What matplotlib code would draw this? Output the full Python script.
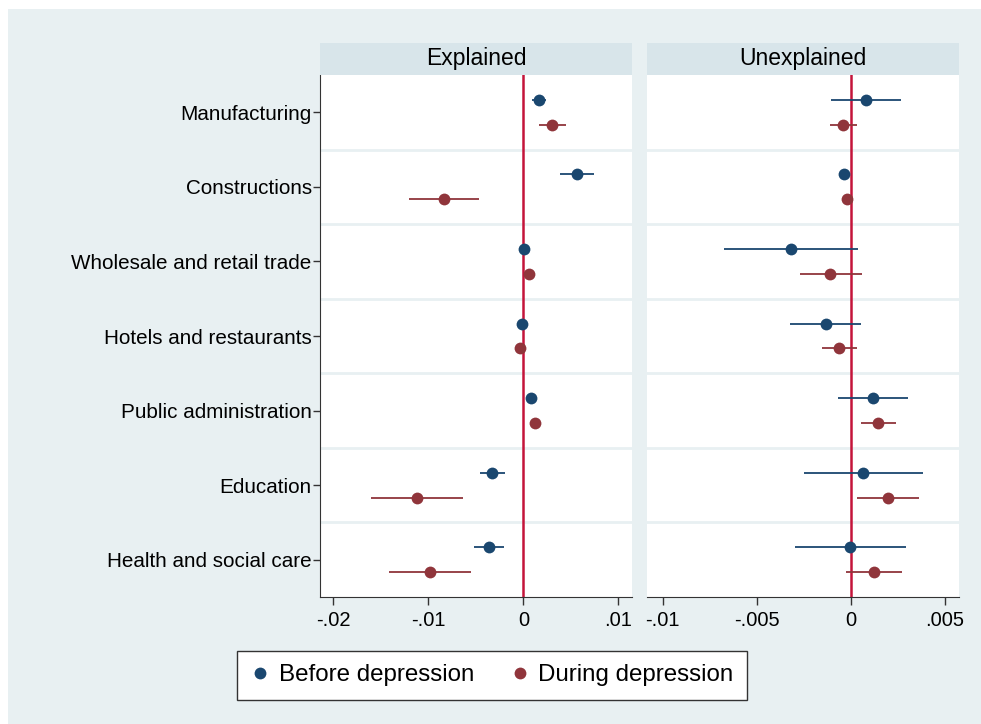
import numpy as np
import matplotlib.pyplot as plt
from matplotlib.patches import Rectangle
from matplotlib.lines import Line2D

plt.rcParams['font.family'] = ['Liberation Sans', 'DejaVu Sans']

sectors = ["Manufacturing", "Constructions", "Wholesale and retail trade",
           "Hotels and restaurants", "Public administration", "Education",
           "Health and social care"]

# Explained component: point estimate, lower and upper bound
expl_before = [0.00162, 0.0056, 0.00007, -0.0001, 0.0008, -0.00328, -0.00363]
expl_before_lo = [0.00095, 0.00387, -0.0002, -0.0003, 0.0006, -0.00458, -0.00514]
expl_before_hi = [0.00243, 0.00746, 0.0002, 0.0001, 0.001, -0.0019, -0.00208]
expl_during = [0.00299, -0.00838, 0.00063, -0.00032, 0.00119, -0.01123, -0.00986]
expl_during_lo = [0.00162, -0.01204, 0.0004, -0.0005, 0.0008, -0.01605, -0.01409]
expl_during_hi = [0.00454, -0.00465, 0.0008, -0.0001, 0.0018, -0.00634, -0.00549]

# Unexplained component
unex_before = [0.00081, -0.00034, -0.00319, -0.00133, 0.0012, 0.00064, -0.00004]
unex_before_lo = [-0.00105, -0.0004, -0.00674, -0.00321, -0.00068, -0.00248, -0.00295]
unex_before_hi = [0.00266, -0.0003, 0.00039, 0.00053, 0.00303, 0.00383, 0.00293]
unex_during = [-0.00041, -0.00018, -0.00108, -0.00062, 0.00147, 0.00197, 0.00126]
unex_during_lo = [-0.00108, -0.00025, -0.00271, -0.00151, 0.00055, 0.00032, -0.00023]
unex_during_hi = [0.00032, -0.0001, 0.00058, 0.00035, 0.00241, 0.00362, 0.00271]

navy = "#1a476f"
maroon = "#90353b"
bg = "#e8f0f2"
strip = "#d8e5ea"
refline = "#c4143a"

W, H = 981, 724
fig = plt.figure(figsize=(W / 100, H / 100), dpi=100)
fig.patch.set_facecolor("white")
fig.add_artist(Rectangle((8 / W, 0), 1 - 8 / W, 1 - 9 / H, transform=fig.transFigure,
                         facecolor=bg, edgecolor="none", zorder=0))


def box(x0, x1, y0, y1):
    return [x0 / W, 1 - y1 / H, (x1 - x0) / W, (y1 - y0) / H]


panels = [
    ("Explained", box(320, 632, 75, 597), (-0.0214, 0.01144), [-0.02, -0.01, 0, 0.01],
     ["-.02", "-.01", "0", ".01"],
     (expl_before, expl_before_lo, expl_before_hi, expl_during, expl_during_lo, expl_during_hi)),
    ("Unexplained", box(647, 959, 75, 597), (-0.01083, 0.00576), [-0.01, -0.005, 0, 0.005],
     ["-.01", "-.005", "0", ".005"],
     (unex_before, unex_before_lo, unex_before_hi, unex_during, unex_during_lo, unex_during_hi)),
]

pos = np.arange(1, len(sectors) + 1)
off = 0.167

for i, (title, rect, xlim, ticks, ticklabels, data) in enumerate(panels):
    ax = fig.add_axes(rect)
    ax.set_facecolor("white")
    b, blo, bhi, d, dlo, dhi = [np.array(v) for v in data]

    for y in np.arange(1.5, len(sectors), 1.0):
        ax.axhline(y, color=bg, lw=2, zorder=1)
    ax.axvline(0, color=refline, lw=1.8, zorder=2)

    ax.hlines(pos - off, blo, bhi, color=navy, lw=1.3, zorder=3)
    ax.plot(b, pos - off, "o", color=navy, ms=8.5, mew=0, zorder=4)
    ax.hlines(pos + off, dlo, dhi, color=maroon, lw=1.3, zorder=3)
    ax.plot(d, pos + off, "o", color=maroon, ms=8.5, mew=0, zorder=4)

    ax.set_xlim(*xlim)
    ax.set_ylim(len(sectors) + 0.5, 0.5)
    ax.set_xticks(ticks)
    ax.set_xticklabels(ticklabels, fontsize=14.5)
    ax.tick_params(axis="x", length=6, width=1, color="#333333", pad=4)

    for s in ["top", "right"]:
        ax.spines[s].set_visible(False)
    ax.spines["bottom"].set_color("#333333")
    if i == 0:
        ax.spines["left"].set_color("#333333")
        ax.set_yticks(pos)
        ax.set_yticklabels(sectors, fontsize=14.9)
        ax.tick_params(axis="y", length=5, width=1, color="#333333", pad=1)
    else:
        ax.spines["left"].set_visible(False)
        ax.set_yticks([])

    # strip title above each panel
    x0 = rect[0]
    fig.add_artist(Rectangle((x0, 1 - 74.5 / H), rect[2], 31 / H, transform=fig.transFigure,
                             facecolor=strip, edgecolor="none", zorder=1))
    fig.text(x0 + rect[2] / 2, 1 - 59 / H, title, ha="center", va="center", fontsize=16.5)

handles = [
    Line2D([], [], ls="none", marker="o", color=navy, ms=8.5, mew=0),
    Line2D([], [], ls="none", marker="o", color=maroon, ms=8.5, mew=0),
]
leg = fig.legend(handles, ["Before depression", "During depression"], ncol=2,
                 loc="center", bbox_to_anchor=(492 / W, 1 - 675.5 / H), fontsize=17.4,
                 frameon=True, fancybox=False, edgecolor="#333333", framealpha=1,
                 handlelength=0.8, handletextpad=0.35, columnspacing=1.5, borderpad=0.55)
leg.get_frame().set_linewidth(1)

fig.savefig("out.png", dpi=100, facecolor=fig.get_facecolor())
